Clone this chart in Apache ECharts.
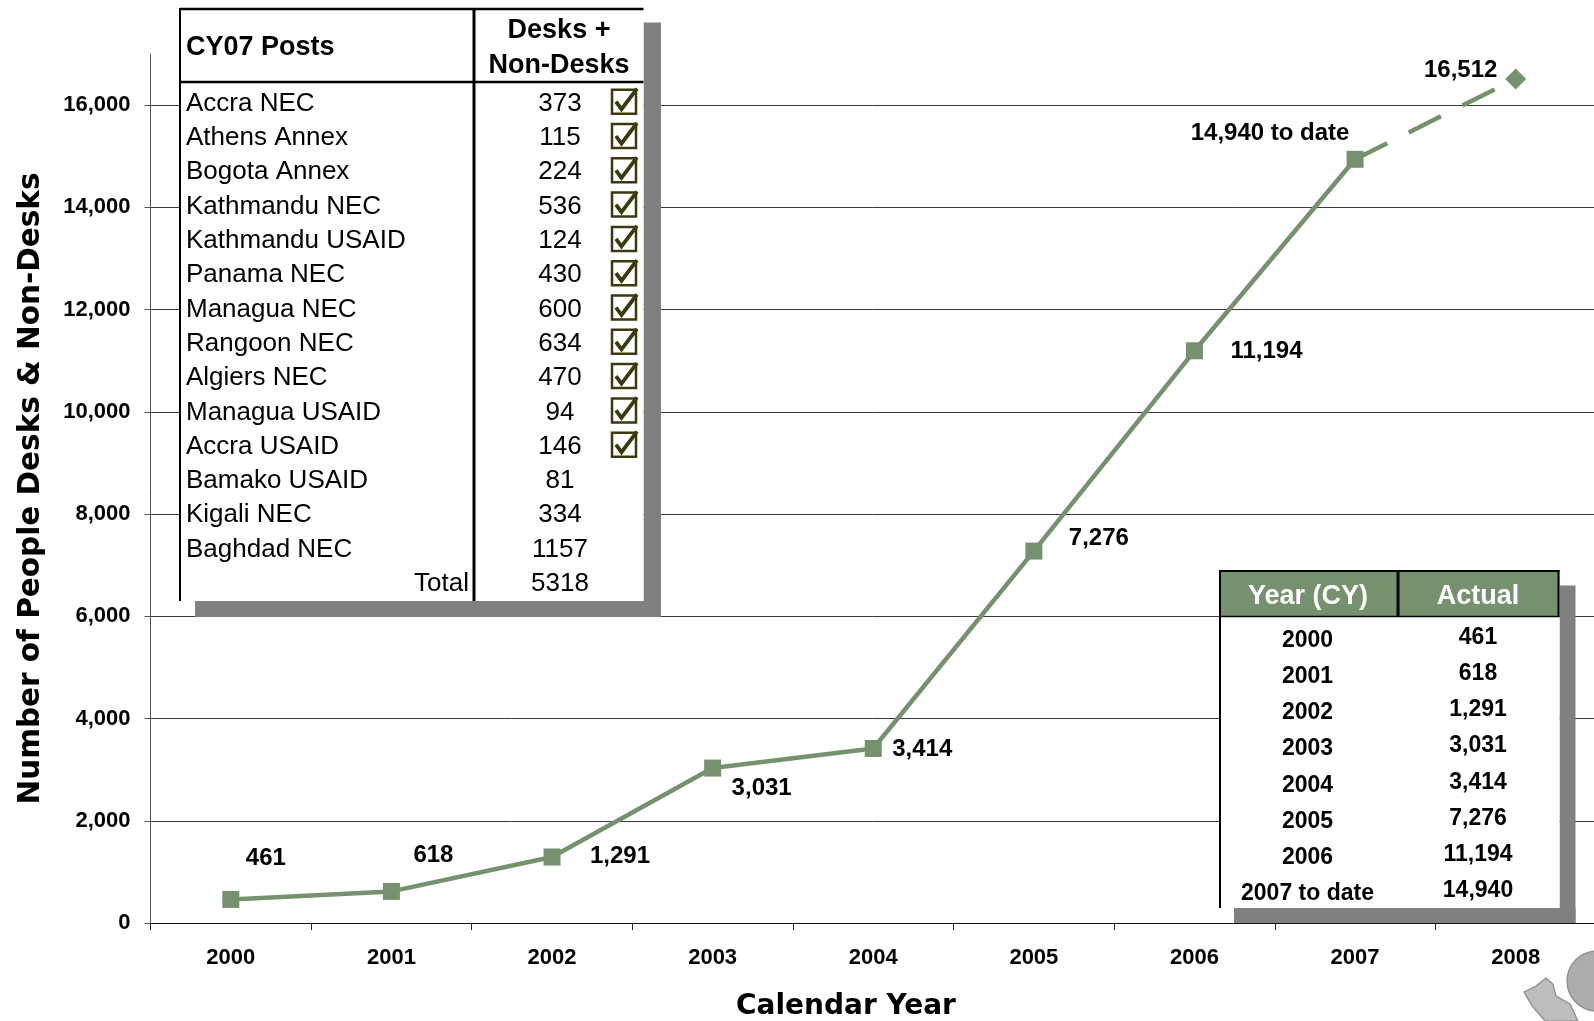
<!DOCTYPE html>
<html>
<head>
<meta charset="utf-8">
<title>Desks and Non-Desks by Calendar Year</title>
<script src="https://cdn.jsdelivr.net/npm/echarts@6/dist/echarts.min.js"></script>
<style>
html, body { margin: 0; padding: 0; background: #fff; }
#chart { width: 1594px; height: 1021px; }
</style>
</head>
<body>
<div id="chart"></div>
<script>
// chart data
var years = ['2000', '2001', '2002', '2003', '2004', '2005', '2006', '2007', '2008'];
var actual = [461, 618, 1291, 3031, 3414, 7276, 11194, 14940, null];
var projected = [null, null, null, null, null, null, null, 14940, 16512];
var yTicks = [0, 2000, 4000, 6000, 8000, 10000, 12000, 14000, 16000];
var toDateIndex = 7;

// CY07 posts table
var posts = ['Accra NEC', 'Athens Annex', 'Bogota Annex', 'Kathmandu NEC', 'Kathmandu USAID',
  'Panama NEC', 'Managua NEC', 'Rangoon NEC', 'Algiers NEC', 'Managua USAID', 'Accra USAID',
  'Bamako USAID', 'Kigali NEC', 'Baghdad NEC'];
var postCounts = [373, 115, 224, 536, 124, 430, 600, 634, 470, 94, 146, 81, 334, 1157];
var postDone = [true, true, true, true, true, true, true, true, true, true, true, false, false, false];
var postTotal = 5318;

// summary table
var tableYears = ['2000', '2001', '2002', '2003', '2004', '2005', '2006', '2007 to date'];
var tableActual = [461, 618, 1291, 3031, 3414, 7276, 11194, 14940];

// where each point label sits, relative to its point (px)
var labelOffsets = [[35, -41], [42, -36], [68, -1], [49, 20], [49, 1], [65, -13], [72, 1], [-85, -26]];
var projLabelOffset = [-55, -9];

var green = '#76916e';
var shadow = '#808080';
var fmt = function (v) { return v.toLocaleString('en-US'); };

function txt(x, y, s, font, align, fill) {
  return {
    type: 'text', z: 20,
    style: {
      x: x, y: y, text: s, font: font, fill: fill || '#000',
      textAlign: align || 'left', textVerticalAlign: 'middle',
      align: align || 'left', verticalAlign: 'middle'
    }
  };
}
function rect(x, y, w, h, fill) {
  return { type: 'rect', z: 15, shape: { x: x, y: y, width: w, height: h }, style: { fill: fill } };
}
function line(x1, y1, x2, y2, w, c) {
  return { type: 'line', z: 18, shape: { x1: x1, y1: y1, x2: x2, y2: y2 }, style: { stroke: c || '#000', lineWidth: w } };
}
function checkbox(cx, cy) {
  var c = '#3a3a0c';
  return [
    { type: 'rect', z: 19, shape: { x: cx - 12, y: cy - 12, width: 24, height: 24 }, style: { fill: null, stroke: c, lineWidth: 2.5 } },
    { type: 'polyline', z: 19, shape: { points: [[cx - 8, cy], [cx - 2.5, cy + 7.5], [cx + 13, cy - 13]] }, style: { fill: null, stroke: c, lineWidth: 3.8 } }
  ];
}

var els = [];

// --- CY07 posts table ---
var t1 = { x: 180, y: 8, r: 643.5, b: 601, div: 474, head: 82 };
var row1 = 103.7, step1 = 34.3;
els.push(rect(t1.r, 22.5, 17.5, t1.b + 16 - 22.5, shadow));
els.push(rect(195, t1.b, t1.r + 17.5 - 195, 16, shadow));
els.push(rect(t1.x, t1.y, t1.r - t1.x, t1.b - t1.y, '#fff'));
els.push(line(t1.x, t1.y + 1, t1.r, t1.y + 1, 2.5));
els.push(line(t1.x, t1.head, t1.r, t1.head, 2.5));
els.push(line(t1.x, t1.y, t1.x, t1.b, 2));
els.push(line(t1.div, t1.y, t1.div, t1.b, 3));
var f1h = "bold 27px 'Liberation Sans', Arial, sans-serif";
var f1 = "26px 'Liberation Sans', Arial, sans-serif";
els.push(txt(186, 47.5, 'CY07 Posts', f1h));
els.push(txt(559, 30.5, 'Desks +', f1h, 'center'));
els.push(txt(559, 66, 'Non-Desks', f1h, 'center'));
posts.forEach(function (p, i) {
  var y = row1 + i * step1;
  els.push(txt(186, y, p, f1));
  els.push(txt(560, y, String(postCounts[i]), f1, 'center'));
  if (postDone[i]) els = els.concat(checkbox(624, y - 2));
});
els.push(txt(469, row1 + posts.length * step1, 'Total', f1, 'right'));
els.push(txt(560, row1 + posts.length * step1, String(postTotal), f1, 'center'));

// --- year / actual table ---
var t2 = { x: 1219, y: 570, r: 1559.5, b: 908, div: 1398, head: 616.5 };
els.push(rect(t2.r, 585.5, 16, t2.b + 15 - 585.5, shadow));
els.push(rect(1234, t2.b, t2.r + 16 - 1234, 15, shadow));
els.push(rect(t2.x, t2.y, t2.r - t2.x, t2.b - t2.y, '#fff'));
els.push(rect(t2.x, t2.y, t2.r - t2.x, t2.head - t2.y, green));
els.push(line(t2.x, t2.y + 1, t2.r, t2.y + 1, 2));
els.push(line(t2.x, t2.head, t2.r, t2.head, 1.5));
els.push(line(t2.r - 1, t2.y, t2.r - 1, t2.head, 2));
els.push(line(t2.x + 1, t2.y, t2.x + 1, t2.b, 2));
els.push(line(t2.div, t2.y, t2.div, t2.head, 3));
var f2h = "bold 27px 'Liberation Sans', Arial, sans-serif";
var f2 = "bold 23px 'Liberation Sans', Arial, sans-serif";
els.push(txt(1308, 596.5, 'Year (CY)', f2h, 'center', '#fff'));
els.push(txt(1478, 596.5, 'Actual', f2h, 'center', '#fff'));
tableYears.forEach(function (yr, i) {
  els.push(txt(1307.5, 640.4 + i * 36.2, yr, f2, 'center'));
  els.push(txt(1478, 637.4 + i * 36.2, fmt(tableActual[i]), f2, 'center'));
});

// x axis title
els.push(txt(846, 1007, 'Calendar Year', "bold 28px 'DejaVu Sans', sans-serif", 'center'));

// corner of the seal
els.push({ type: 'polygon', z: 5, shape: { points: [[1524, 992], [1536, 986], [1546, 978], [1553, 984], [1556, 996], [1570, 1004], [1578, 1021], [1545, 1021], [1532, 1006]] },
  style: { fill: '#bdbdbd', stroke: '#8a8a8a', lineWidth: 1.2 } });
els.push({ type: 'circle', z: 6, shape: { cx: 1597, cy: 981, r: 30 }, style: { fill: '#adadad', stroke: '#8a8a8a', lineWidth: 1.2 } });

var boldLabel = { fontFamily: "'Liberation Sans', Arial, sans-serif", fontWeight: 'bold', color: '#000' };

var option = {
  animation: false,
  backgroundColor: '#fff',
  grid: { left: 150.5, top: 54, width: 1445.5, bottom: 98, containLabel: false, outerBoundsMode: 'none' },
  xAxis: {
    type: 'category',
    data: years,
    boundaryGap: true,
    axisLine: { lineStyle: { color: '#111', width: 1.2 } },
    axisTick: { show: true, length: 7, lineStyle: { color: '#222' } },
    axisLabel: Object.assign({ fontSize: 22, margin: 24 }, boldLabel),
    splitLine: { show: false }
  },
  yAxis: {
    type: 'value',
    min: 0,
    max: 17000,
    interval: 1000,
    name: 'Number of People Desks & Non-Desks',
    nameLocation: 'middle',
    nameGap: 104,
    nameTextStyle: { fontFamily: "'DejaVu Sans', sans-serif", fontWeight: 'bold', fontSize: 29.5, color: '#000' },
    axisLine: { show: true, lineStyle: { color: '#555', width: 1 } },
    axisTick: { show: true, length: 6, customValues: yTicks, lineStyle: { color: '#555' } },
    axisLabel: Object.assign({ fontSize: 22, margin: 20, customValues: yTicks, formatter: function (v) { return fmt(v); } }, boldLabel),
    splitLine: { show: true, lineStyle: { color: '#3a3a3a', width: 1 } }
  },
  series: [
    {
      name: 'Projected',
      type: 'line',
      z: 3,
      data: projected.map(function (v, i) {
        if (v === null) return null;
        if (i === toDateIndex) return { value: v, symbol: 'none' };
        return {
          value: v, symbol: 'diamond', symbolSize: 21,
          label: {
            show: true, position: 'inside', offset: projLabelOffset,
            formatter: function (p) { return fmt(p.value); }
          }
        };
      }),
      lineStyle: { color: green, width: 4.5, type: [36, 24] },
      itemStyle: { color: green },
      label: Object.assign({ fontSize: 24 }, boldLabel)
    },
    {
      name: 'Actual',
      type: 'line',
      z: 4,
      data: actual.map(function (v, i) {
        if (v === null) return null;
        return { value: v, label: { offset: labelOffsets[i] } };
      }),
      symbol: 'rect',
      symbolSize: 17,
      lineStyle: { color: green, width: 4.5 },
      itemStyle: { color: green },
      label: Object.assign({
        show: true, position: 'inside', fontSize: 24,
        formatter: function (p) { return fmt(p.value) + (p.dataIndex === toDateIndex ? ' to date' : ''); }
      }, boldLabel)
    }
  ],
  graphic: { elements: els }
};

var chart = echarts.init(document.getElementById('chart'));
chart.setOption(option);
</script>
</body>
</html>
